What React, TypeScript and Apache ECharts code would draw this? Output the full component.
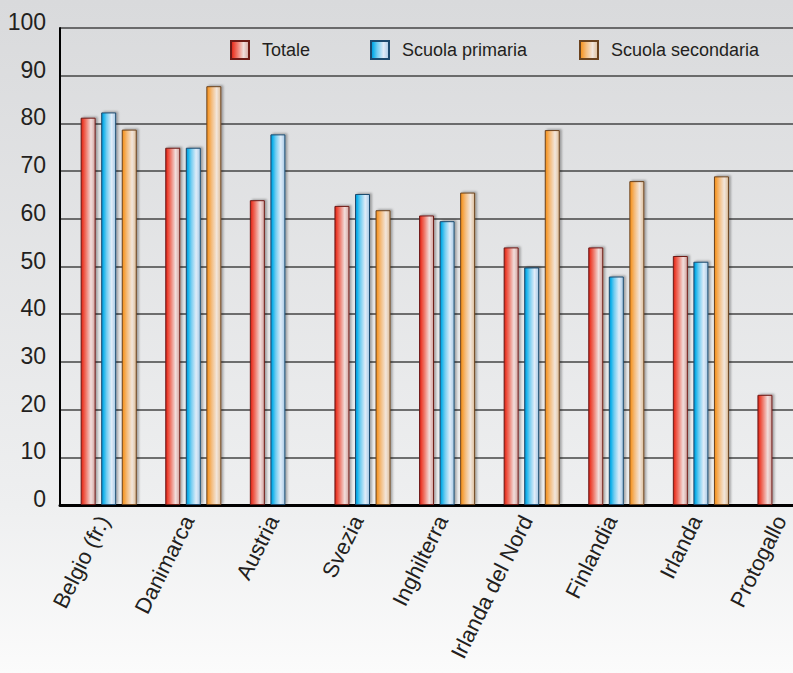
import { useEffect, useRef } from "react";
import * as echarts from "echarts";

const categories = [
  "Belgio (fr.)",
  "Danimarca",
  "Austria",
  "Svezia",
  "Inghilterra",
  "Irlanda del Nord",
  "Finlandia",
  "Irlanda",
  "Protogallo",
];
const seriesNames = ["Totale", "Scuola primaria", "Scuola secondaria"];
const totale = [81.2, 74.9, 63.9, 62.7, 60.7, 54.0, 54.0, 52.2, 23.1];
const primaria = [82.3, 74.9, 77.7, 65.2, 59.5, 49.8, 47.9, 51.0, null];
const secondaria = [78.7, 87.8, null, 61.8, 65.5, 78.6, 67.9, 68.9, null];
const yMin = 0;
const yMax = 100;
const yStep = 10;

const FONT = "'Liberation Sans', Arial, Helvetica, sans-serif";
const TEXT = "#231f20";

function grad(stops: [number, string][]) {
  return new echarts.graphic.LinearGradient(
    0,
    0,
    1,
    0,
    stops.map(([offset, color]) => ({ offset, color }))
  );
}

const styles = [
  {
    fill: grad([
      [0, "#c41f18"],
      [0.12, "#ec3d2c"],
      [0.35, "#ef7a6c"],
      [0.7, "#f1dedc"],
      [1, "#d3a29e"],
    ]),
    border: "#6e1a16",
  },
  {
    fill: grad([
      [0, "#0a8bc8"],
      [0.12, "#0fb0ea"],
      [0.35, "#72cdf1"],
      [0.7, "#e0ecf8"],
      [1, "#a6c9e6"],
    ]),
    border: "#1b4a6e",
  },
  {
    fill: grad([
      [0, "#f08e18"],
      [0.12, "#f69d35"],
      [0.35, "#f4bd7f"],
      [0.7, "#f2e6dc"],
      [1, "#ddbd98"],
    ]),
    border: "#6a421e",
  },
];

export default function App() {
  const ref = useRef<HTMLDivElement>(null);
  useEffect(() => {
    if (!ref.current) return;
    const chart = echarts.init(ref.current, undefined, { renderer: "svg" });
    const data = [totale, primaria, secondaria];
    const legendLefts = [230, 370, 579];
    const gridBase = { top: 28, bottom: 168, outerBoundsMode: "none", containLabel: false };
    chart.setOption({
      animation: false,
      backgroundColor: "transparent",
      textStyle: { fontFamily: FONT, color: TEXT },
      legend: seriesNames.map((n, i) => ({
        data: [n],
        left: legendLefts[i],
        top: 40,
        padding: 0,
        itemWidth: 18,
        itemHeight: 18,
        selectedMode: false,
        icon: "rect",
        textStyle: {
          fontFamily: FONT,
          fontSize: 18,
          color: TEXT,
          padding: [0, 0, 0, 8],
        },
      })),
      grid: [
        { ...gridBase, left: 66.4, width: 761.4 },
        { ...gridBase, left: 60, right: 0 },
        { ...gridBase, left: 61.4, width: 761.4 },
      ],
      xAxis: [
        {
          type: "category",
          gridIndex: 0,
          data: categories,
          axisLine: { show: false },
          axisTick: { show: false },
          axisLabel: { show: false },
        },
        {
          type: "value",
          gridIndex: 1,
          min: 0,
          max: 1,
          axisLine: { show: true, lineStyle: { color: "#000", width: 3 } },
          axisTick: { show: false },
          axisLabel: { show: false },
          splitLine: { show: false },
        },
        {
          type: "category",
          gridIndex: 2,
          data: categories,
          axisLine: { show: false },
          axisTick: { show: false },
          axisLabel: {
            interval: 0,
            rotate: 63.5,
            margin: 12,
            fontSize: 22,
            fontFamily: FONT,
            color: TEXT,
          },
        },
      ],
      yAxis: [
        {
          type: "value",
          gridIndex: 0,
          min: yMin,
          max: yMax,
          interval: yStep,
          show: false,
        },
        {
          type: "value",
          gridIndex: 1,
          min: yMin,
          max: yMax,
          interval: yStep,
          axisLine: { show: true, lineStyle: { color: "#000", width: 2 } },
          axisTick: { show: false },
          axisLabel: {
            fontSize: 23,
            fontFamily: FONT,
            color: TEXT,
            margin: 14,
            verticalAlign: "bottom",
            lineHeight: 12,
          },
          splitLine: { show: true, lineStyle: { color: "#444", width: 1.5 } },
        },
        {
          type: "value",
          gridIndex: 2,
          min: yMin,
          max: yMax,
          interval: yStep,
          show: false,
        },
      ],
      series: seriesNames.map((n, i) => ({
        name: n,
        type: "bar",
        xAxisIndex: 0,
        yAxisIndex: 0,
        data: data[i],
        barWidth: 15,
        barGap: "37%",
        itemStyle: {
          color: styles[i].fill,
          borderColor: styles[i].border,
          borderWidth: 1,
          shadowColor: "rgba(0,0,0,0.3)",
          shadowBlur: 2,
          shadowOffsetX: 2,
          shadowOffsetY: -1,
        },
      })),
    });
    return () => chart.dispose();
  }, []);
  return (
    <div
      style={{
        position: "fixed",
        left: 0,
        top: 0,
        width: 793,
        height: 673,
        background: "linear-gradient(to bottom, #d9dadc 0%, #eeeff0 75%, #fbfbfb 100%)",
      }}
    >
      <div ref={ref} style={{ width: 793, height: 673 }} />
    </div>
  );
}
